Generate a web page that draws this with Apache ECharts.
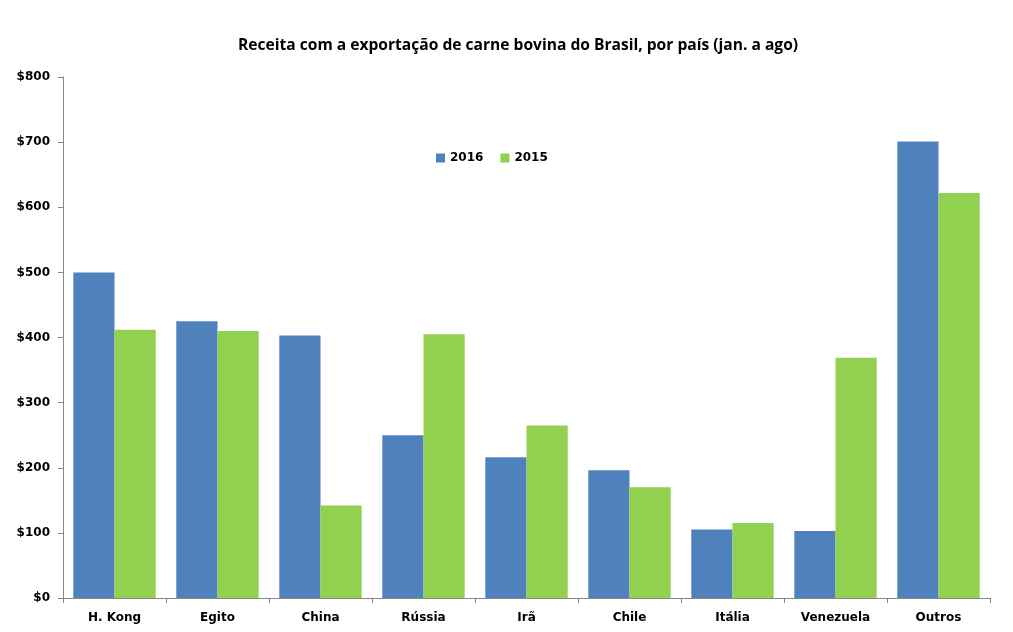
<!DOCTYPE html>
<html><head><meta charset="utf-8">
<script src="https://cdn.jsdelivr.net/npm/echarts@6/dist/echarts.min.js"></script>
<style>html,body{margin:0;padding:0;background:#fff}#c{width:1013px;height:632px}</style>
</head><body><div id="c"></div>
<script>
const categories = ["H. Kong","Egito","China","Rússia","Irã","Chile","Itália","Venezuela","Outros"];
const values2016 = [500, 425, 403, 250, 216, 196, 105, 103, 701];
const values2015 = [412, 410, 142, 405, 265, 170, 115, 369, 622];
const seriesNames = ["2016","2015"];
const colors = ["#4F81BD","#92D050"];

const chart = echarts.init(document.getElementById('c'));
const axisLine = {lineStyle:{color:'#868686', width:1}};
chart.setOption({
  animation:false,
  title:{text:'Receita com a exportação de carne bovina do Brasil, por país (jan. a ago)', left:233, top:33,
    textStyle:{fontFamily:'Open Sans', fontWeight:'bold', fontSize:15.6, color:'#000'}},
  legend:{data:seriesNames, left:431, top:147, itemWidth:9, itemHeight:9, itemGap:17,
    icon:'rect', textStyle:{fontFamily:'DejaVu Sans', fontWeight:'bold', fontSize:12, color:'#000'}},
  grid:{left:63, right:23, top:77, bottom:34, containLabel:false},
  xAxis:{type:'category', data:categories, axisLine:axisLine,
    axisTick:{show:true, length:5, alignWithLabel:false, lineStyle:{color:'#868686'}},
    axisLabel:{fontFamily:'DejaVu Sans', fontWeight:'bold', fontSize:12, color:'#000', margin:14}},
  yAxis:{type:'value', min:0, max:800, interval:100, splitLine:{show:false},
    axisLine:{show:true, lineStyle:{color:'#868686'}},
    axisTick:{show:true, length:5, lineStyle:{color:'#868686'}},
    axisLabel:{fontFamily:'DejaVu Sans', fontWeight:'bold', fontSize:12, color:'#000', margin:13,
      formatter: v => '$' + v}},
  series:[
    {name:seriesNames[0], type:'bar', data:values2016, itemStyle:{color:colors[0]}, barGap:'0%', barCategoryGap:'20%'},
    {name:seriesNames[1], type:'bar', data:values2015, itemStyle:{color:colors[1]}, barGap:'0%', barCategoryGap:'20%'}
  ]
});
</script></body></html>
